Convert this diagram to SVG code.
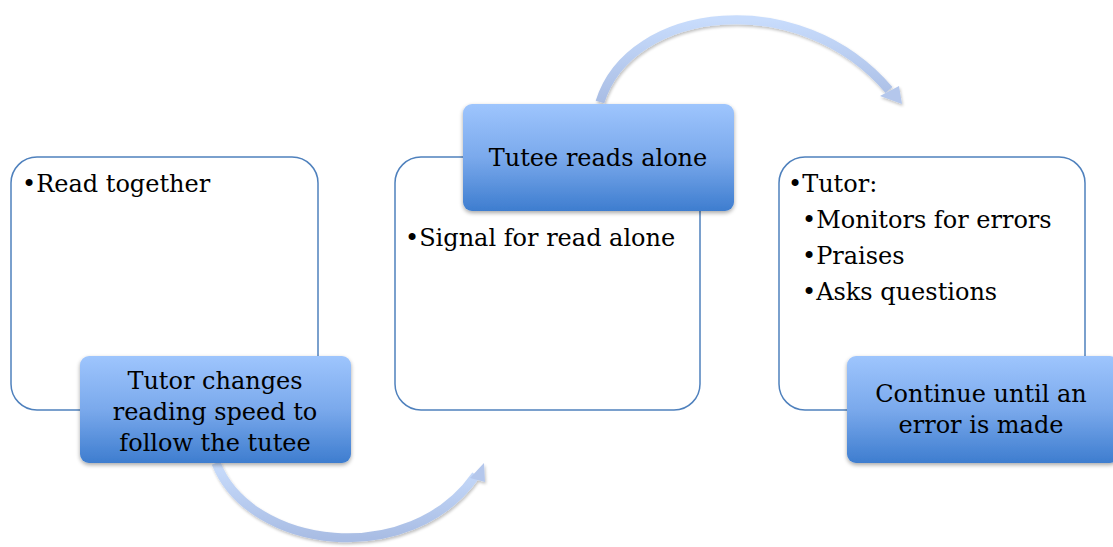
<svg xmlns="http://www.w3.org/2000/svg" width="1113" height="547" viewBox="0 0 1113 547">
<style>
.panel{fill:#fff;stroke:#4f81bd;stroke-width:1.5}
.label{fill:url(#bg);filter:url(#sh)}
.t{font-family:"DejaVu Serif","Liberation Serif",serif;font-size:24px;fill:#000}
.c{text-anchor:middle}
.arc{fill:none;stroke:url(#ag);stroke-width:9}
.head{fill:#b4c7ec}
</style>
<defs>
<linearGradient id="bg" x1="0" y1="0" x2="0" y2="1">
<stop offset="0" stop-color="#9ec5fd"/>
<stop offset="0.5" stop-color="#7aa9ec"/>
<stop offset="1" stop-color="#3e7dcf"/>
</linearGradient>
<linearGradient id="ag" x1="0" y1="0" x2="0" y2="1">
<stop offset="0" stop-color="#c8dcfc"/>
<stop offset="1" stop-color="#a9bde4"/>
</linearGradient>
<filter id="sh" x="-10%" y="-10%" width="120%" height="130%">
<feGaussianBlur in="SourceAlpha" stdDeviation="2"/>
<feOffset dx="0" dy="2" result="b"/>
<feComponentTransfer><feFuncA type="linear" slope="0.35"/></feComponentTransfer>
<feMerge><feMergeNode/><feMergeNode in="SourceGraphic"/></feMerge>
</filter>
<filter id="ash" x="-10%" y="-10%" width="120%" height="130%">
<feGaussianBlur in="SourceAlpha" stdDeviation="1.5"/>
<feOffset dx="1" dy="2"/>
<feComponentTransfer><feFuncA type="linear" slope="0.25"/></feComponentTransfer>
<feMerge><feMergeNode/><feMergeNode in="SourceGraphic"/></feMerge>
</filter>
</defs>
<g id="connectors" filter="url(#ash)">
<path class="arc" d="M600,102 C630,5 800,-15 889,90"/>
<polygon class="head" points="902,104 880,96 899,86"/>
<path class="arc" d="M216,463 C250,550 410,570 476,475"/>
<polygon class="head" points="484,463 470,478 485,482"/>
</g>
<g id="node1">
<rect class="panel" x="11" y="157" width="307" height="253" rx="26"/>
<text class="t" x="22" y="192">•Read together</text>
</g>
<g id="node1-label">
<rect class="label" x="80" y="356" width="271" height="107" rx="9"/>
<text class="t c" x="215" y="389">Tutor changes</text>
<text class="t c" x="215" y="420">reading speed to</text>
<text class="t c" x="215" y="451">follow the tutee</text>
</g>
<g id="node2">
<rect class="panel" x="395" y="157" width="305" height="253" rx="26"/>
<text class="t" x="405" y="246">•Signal for read alone</text>
</g>
<g id="node2-label">
<rect class="label" x="463" y="104" width="271" height="107" rx="9"/>
<text class="t c" x="598" y="166">Tutee reads alone</text>
</g>
<g id="node3">
<rect class="panel" x="779" y="157" width="306" height="253" rx="26"/>
<text class="t" x="788" y="192">•Tutor:</text>
<text class="t" x="802" y="228">•Monitors for errors</text>
<text class="t" x="802" y="264">•Praises</text>
<text class="t" x="802" y="300">•Asks questions</text>
</g>
<g id="node3-label">
<rect class="label" x="847" y="356" width="272" height="107" rx="9"/>
<text class="t c" x="981" y="402">Continue until an</text>
<text class="t c" x="981" y="433">error is made</text>
</g>
</svg>
